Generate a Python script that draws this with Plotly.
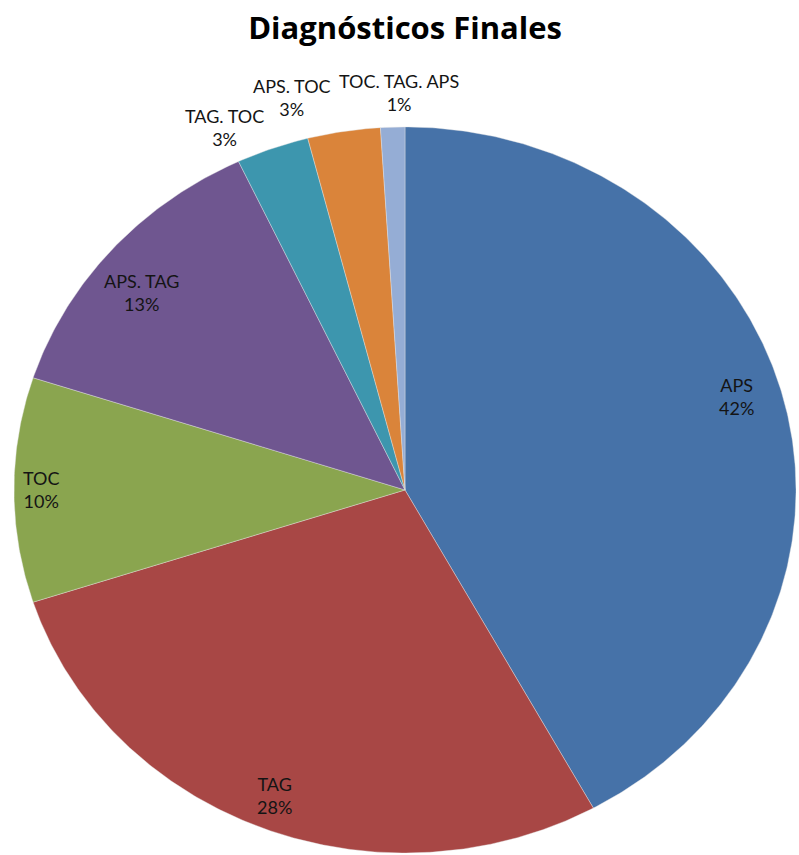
import numpy as np
import plotly.graph_objects as go

# Final diagnoses (percent of cases)
categories = ["APS", "TAG", "TOC", "APS. TAG", "TAG. TOC", "APS. TOC", "TOC. TAG. APS"]
percentages = [42, 28, 10, 13, 3, 3, 1]

# Slice colours (Office 2007 palette)
colors = ["#4672A8", "#A84745", "#8AA54F", "#6F5690", "#3D96AE", "#DA843A", "#95ADD5"]

# Label placement: radial distance (fraction of radius) and angular nudge in degrees
label_radius = [0.885, 0.905, 0.93, 0.865, 1.10, 1.12, 1.095]
label_nudge = [-2.5, 0.0, 0.0, -2.5, -5.0, -6.0, 1.0]

total = float(sum(percentages))
fig = go.Figure()
annotations = []

start = 0.0  # degrees, clockwise from 12 o'clock
for name, pct, col, lr, ln in zip(categories, percentages, colors, label_radius, label_nudge):
    sweep = 360.0 * pct / total
    end = start + sweep
    n = max(int(sweep * 2), 4)
    theta = np.radians(np.linspace(start, end, n))
    xs = np.concatenate([[0.0], np.sin(theta), [0.0]])
    ys = np.concatenate([[0.0], np.cos(theta), [0.0]])
    fig.add_trace(go.Scatter(
        x=xs, y=ys, mode="lines", fill="toself",
        fillcolor=col,
        line=dict(color="rgba(230,230,230,0.5)", width=0.8),
        hoverinfo="text", text=f"{name}: {pct}%",
        showlegend=False,
    ))
    mid = np.radians((start + end) / 2.0 + ln)
    annotations.append(dict(
        x=lr * np.sin(mid), y=lr * np.cos(mid),
        xref="x", yref="y",
        text=f"{name}<br>{pct}%",
        showarrow=False, xanchor="center", yanchor="middle",
        font=dict(family="Lato, 'Open Sans', sans-serif", size=18, color="#141414"),
    ))
    start = end

fig.update_layout(
    width=799, height=855,
    margin=dict(l=14, r=3, t=18, b=2),
    paper_bgcolor="white", plot_bgcolor="white",
    title=dict(
        text="<b>Diagnósticos Finales</b>",
        x=0.507, xanchor="center",
        y=1 - 28 / 855, yanchor="middle", yref="container",
        font=dict(family="'Open Sans', sans-serif", size=31, color="#000000"),
    ),
    # the unit circle is stretched into an ellipse by the plot area's aspect;
    # extra room above holds the outside labels of the thin slices
    xaxis=dict(range=[-1, 1], visible=False, fixedrange=True),
    yaxis=dict(range=[-1, 1.3], visible=False, fixedrange=True),
    annotations=annotations,
    showlegend=False,
)

fig.write_html("out.html")
